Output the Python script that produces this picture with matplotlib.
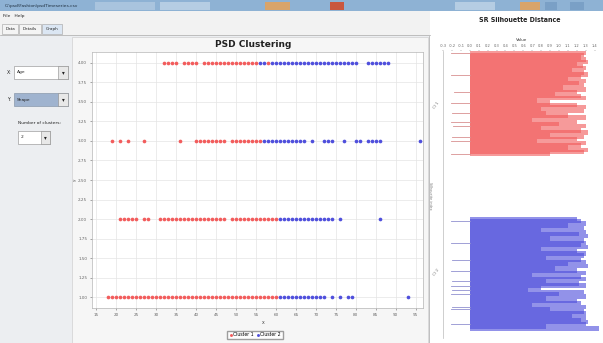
import numpy as np
import matplotlib.pyplot as plt
from matplotlib.patches import Rectangle

# ---- scatter data (age vs shape) ----
c1_row1 = [18, 19, 20, 21, 22, 23, 24, 25, 26, 27, 28, 29, 30, 31, 32, 33, 34, 35, 36, 37, 38,
           39, 40, 41, 42, 43, 44, 45, 46, 47, 48, 49, 50, 51, 52, 53, 54, 55, 56, 57, 58, 59, 60]
c1_row2 = [21, 22, 23, 24, 25, 27, 28, 31, 32, 33, 34, 35, 36, 37, 38, 39, 40, 41, 42, 43, 44,
           45, 46, 47, 49, 50, 51, 52, 53, 54, 55, 56, 57, 58, 59, 60]
c1_row3 = [19, 21, 23, 27, 36, 40, 41, 42, 43, 44, 45, 46, 47, 49, 50, 51, 52, 53, 54, 55, 56]
c1_row4 = [32, 33, 34, 35, 37, 38, 39, 40, 42, 43, 44, 45, 46, 47, 48, 49, 50, 51, 52, 53, 54,
           55, 58]

c2_row1 = [61, 62, 63, 64, 65, 66, 67, 68, 69, 70, 71, 72, 74, 76, 78, 79, 93]
c2_row2 = [61, 62, 63, 64, 65, 66, 67, 68, 69, 70, 71, 72, 73, 74, 76, 86]
c2_row3 = [57, 58, 59, 60, 61, 62, 63, 64, 65, 66, 67, 69, 72, 73, 74, 77, 80, 81, 83, 84, 85,
           86, 96]
c2_row4 = [56, 57, 59, 60, 61, 62, 63, 64, 65, 66, 67, 68, 69, 70, 71, 72, 73, 74, 75, 76, 77,
           78, 79, 80, 83, 84, 85, 86, 87, 88]

x_ticks = [15, 20, 25, 30, 35, 40, 45, 50, 55, 60, 65, 70, 75, 80, 85, 90, 95]
y_ticks = [1.00, 1.25, 1.50, 1.75, 2.00, 2.25, 2.50, 2.75, 3.00, 3.25, 3.50, 3.75, 4.00]

# ---- silhouette values per member, top to bottom ----
sil_c1 = [1.30, 1.28, 1.25, 1.30, 1.32, 1.20, 1.27, 1.30, 1.15, 1.28, 1.33, 1.25, 1.10, 1.30,
          1.22, 1.28, 1.05, 1.30, 1.20, 0.95, 1.25, 1.30, 0.75, 0.90, 1.20, 1.30, 0.80, 1.28,
          0.85, 1.10, 1.30, 0.70, 1.20, 1.00, 1.30, 0.80, 1.25, 1.32, 0.90, 1.28, 1.20, 0.75,
          1.30, 1.25, 1.10, 1.32, 1.28, 0.90]
sil_c2 = [1.20, 1.25, 1.30, 1.10, 1.28, 0.80, 1.30, 1.22, 1.32, 0.90, 1.28, 1.30, 1.25, 1.32,
          0.80, 1.20, 1.30, 1.28, 0.85, 1.25, 1.30, 1.10, 1.32, 0.95, 1.20, 1.30, 0.70, 1.25,
          1.30, 0.85, 1.22, 1.30, 0.80, 0.65, 1.28, 1.00, 1.30, 0.85, 1.20, 1.25, 0.70, 1.30,
          0.90, 1.28, 1.30, 1.15, 1.30, 1.25, 1.32, 1.30, 0.85, 1.45]
# members with a small negative part (row index, value)
neg_c1 = [(0, -0.21), (10, -0.21), (18, -0.18), (23, -0.21), (28, -0.2), (32, -0.21),
          (34, -0.19), (39, -0.2), (41, -0.21), (47, -0.21)]
neg_c2 = [(1, -0.21), (11, -0.21), (19, -0.2), (24, -0.21), (29, -0.2), (31, -0.21),
          (33, -0.2), (35, -0.21), (41, -0.2), (42, -0.21), (49, -0.21)]
sil_ticks = [-0.3, -0.2, -0.1, 0.0, 0.1, 0.2, 0.3, 0.4, 0.5, 0.6, 0.7, 0.8, 0.9, 1.0, 1.1,
             1.2, 1.3, 1.4]

RED = '#f25c5c'
BLUE = '#4f4fdc'
W, H = 603, 343


def box(l, t, r, b):
    return [l / W, 1 - b / H, (r - l) / W, (b - t) / H]


fig = plt.figure(figsize=(W / 100, H / 100), dpi=100)
fig.patch.set_facecolor('#eceef1')

# background "window" drawn in pixel units
bg = fig.add_axes([0, 0, 1, 1])
bg.set_xlim(0, W)
bg.set_ylim(H, 0)
bg.axis('off')

bg.add_patch(Rectangle((0, 0), W, 11, color='#8eb2d4', lw=0))
for x0, w, c in [(95, 60, '#a9c4de'), (160, 50, '#b5cde3'), (265, 25, '#d9a46a'),
                 (330, 14, '#c9573f'), (455, 40, '#b5cde3'), (520, 20, '#d9a46a'),
                 (545, 12, '#7aa0c6'), (570, 14, '#7aa0c6')]:
    bg.add_patch(Rectangle((x0, 2), w, 8, color=c, lw=0))
bg.text(5, 6, 'C:\\psd\\Fashion\\psdTimeseries.csv', fontsize=3.2, color='#203040',
        va='center')
bg.add_patch(Rectangle((0, 11), 430, 25, color='#f2f2f2', lw=0))
bg.text(3, 16.5, 'File   Help', fontsize=3.2, color='#222', va='center')
for x0, w, lab, fc in [(2, 16, 'Data', '#f4f4f4'), (19, 22, 'Details', '#f4f4f4'),
                       (42, 20, 'Graph', '#dbe6f3')]:
    bg.add_patch(Rectangle((x0, 24), w, 10, fc=fc, ec='#a0a0a0', lw=0.4))
    bg.text(x0 + w / 2, 29, lab, fontsize=3, ha='center', va='center', color='#222')
bg.plot([0, 430], [35, 35], color='#a8a8a8', lw=0.5)

# right panel
bg.add_patch(Rectangle((430, 11), 173, 332, color='white', lw=0))
bg.plot([429, 429], [36, 343], color='#b8b8b8', lw=0.6)

# left controls
bg.text(7, 72.5, 'X:', fontsize=3.3, va='center', color='#222')
bg.add_patch(Rectangle((14, 66), 54, 13, fc='white', ec='#8a8a8a', lw=0.4))
bg.add_patch(Rectangle((58, 66), 10, 13, fc='#e8e8e8', ec='#8a8a8a', lw=0.4))
bg.text(17, 72.5, 'Age', fontsize=3.2, va='center', color='#222')
bg.text(63, 72.5, '\u25be', fontsize=4, ha='center', va='center', color='#222')
bg.text(7, 99.5, 'Y:', fontsize=3.3, va='center', color='#222')
bg.add_patch(Rectangle((14, 93), 54, 13, fc='#9fb3cf', ec='#7a8aa0', lw=0.4))
bg.add_patch(Rectangle((58, 93), 10, 13, fc='#e8e8e8', ec='#8a8a8a', lw=0.4))
bg.text(17, 99.5, 'Shape', fontsize=3.2, va='center', color='#222')
bg.text(63, 99.5, '\u25be', fontsize=4, ha='center', va='center', color='#222')
bg.text(18, 123, 'Number of clusters:', fontsize=3.2, va='center', color='#222')
bg.add_patch(Rectangle((18, 131), 32, 13, fc='white', ec='#8a8a8a', lw=0.4))
bg.add_patch(Rectangle((41, 131), 9, 13, fc='#e8e8e8', ec='#8a8a8a', lw=0.4))
bg.text(21, 137.5, '2', fontsize=3.2, va='center', color='#222')
bg.text(45.5, 137.5, '\u25be', fontsize=4, ha='center', va='center', color='#222')

# chart panel
bg.add_patch(Rectangle((72, 37), 356, 306, fc='#f6f6f6', ec='#c8c8c8', lw=0.4))
bg.text(253, 44.5, 'PSD Clustering', fontsize=6.5, fontweight='bold', ha='center',
        va='center', color='#222')
bg.text(263, 322, 'x', fontsize=3.3, ha='center', va='center', color='#444')
bg.text(74.5, 180, 'y', fontsize=3, ha='center', va='center', color='#444', rotation=90)

# ---- main scatter ----
ax = fig.add_axes(box(92, 52, 423, 308))
ax.set_facecolor('white')
rows = [(c1_row1, 1.0), (c1_row2, 2.0), (c1_row3, 3.0), (c1_row4, 4.0)]
for i, (xs, yv) in enumerate(rows):
    ax.scatter(xs, [yv] * len(xs), s=7, color=RED, lw=0, zorder=3,
               label='Cluster 1' if i == 0 else None)
rows = [(c2_row1, 1.0), (c2_row2, 2.0), (c2_row3, 3.0), (c2_row4, 4.0)]
for i, (xs, yv) in enumerate(rows):
    ax.scatter(xs, [yv] * len(xs), s=7, color=BLUE, lw=0, zorder=3,
               label='Cluster 2' if i == 0 else None)
ax.set_xlim(14, 96.8)
ax.set_ylim(0.86, 4.14)
ax.set_xticks(x_ticks)
ax.set_yticks(y_ticks)
ax.set_yticklabels(['%.2f' % v for v in y_ticks])
ax.grid(color='#e4e4e4', lw=0.5)
ax.tick_params(labelsize=3, colors='#666', length=1.5, width=0.4, pad=2)
for sp in ax.spines.values():
    sp.set_color('#b5b5b5')
    sp.set_linewidth(0.5)
ax.legend(loc='center', bbox_to_anchor=(255 / W, 1 - 335 / H),
          bbox_transform=fig.transFigure, ncol=2, fontsize=3.3, frameon=True,
          fancybox=False, edgecolor='#888', handletextpad=0.1, columnspacing=0.6,
          borderpad=0.4, markerscale=0.8, handlelength=0.8)

# ---- silhouette ----
bg.text(520, 20, 'SR Silhouette Distance', fontsize=5, fontweight='bold', ha='center',
        va='center', color='#222', fontstretch='condensed')
sx = fig.add_axes(box(443, 51, 600, 338))
sx.set_facecolor('white')
pos1 = np.arange(len(sil_c1)) + 1.0
pos2 = np.arange(len(sil_c2)) + 78.3
sx.barh(pos1, sil_c1, height=2.0, color=RED, lw=0, alpha=0.62)
sx.barh(pos2, sil_c2, height=2.0, color=BLUE, lw=0, alpha=0.62)
for r, v in neg_c1:
    sx.plot([v, 0], [pos1[r], pos1[r]], color='#d89090', lw=0.6)
for r, v in neg_c2:
    sx.plot([v, 0], [pos2[r], pos2[r]], color='#9090d0', lw=0.6)
sx.set_xlim(-0.3, 1.46)
sx.set_ylim(133.7, 0)
sx.xaxis.tick_top()
sx.xaxis.set_label_position('top')
sx.set_xticks(sil_ticks)
sx.set_xticklabels(['%.1f' % v for v in sil_ticks])
sx.set_xlabel('Value', fontsize=3, color='#333', labelpad=2)
sx.set_yticks([])
sx.tick_params(labelsize=2.6, colors='#666', length=1, width=0.3, pad=1.5)
for k in ['top', 'right', 'bottom']:
    sx.spines[k].set_visible(False)
sx.spines['left'].set_color('#bbbbbb')
sx.spines['left'].set_linewidth(0.5)

bg.text(436, 105, 'Cl 1', fontsize=3, rotation=55, ha='center', va='center', color='#777')
bg.text(436, 272, 'Cl 2', fontsize=3, rotation=55, ha='center', va='center', color='#777')
bg.text(430, 196, 'Silhouette index', fontsize=2.4, rotation=-90, ha='center',
        va='center', color='#777')

plt.savefig('out.png', dpi=100)
